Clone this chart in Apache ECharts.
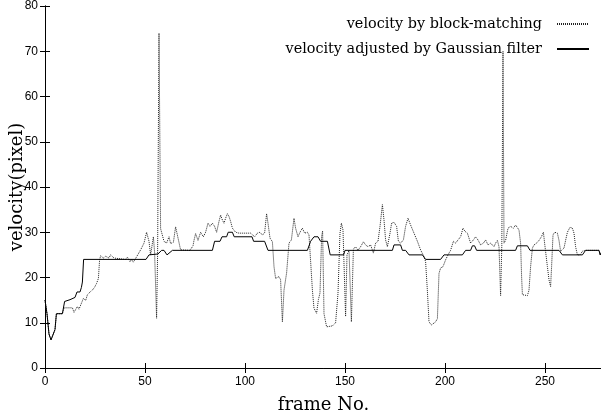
<!DOCTYPE html>
<html>
<head>
<meta charset="utf-8">
<script src="https://cdn.jsdelivr.net/npm/echarts@6/dist/echarts.min.js"></script>
<style>html,body{margin:0;padding:0;background:#fff}#c{width:601px;height:418px}</style>
</head>
<body>
<div id="c"></div>
<script>
// ---- data ----
var seriesNames = ['velocity by block-matching', 'velocity adjusted by Gaussian filter'];
var xTicks = [0, 50, 100, 150, 200, 250];
var yTicks = [0, 10, 20, 30, 40, 50, 60, 70, 80];

var blockFrames = [0,1,2,3,4,5,5.7,8.7,9.5,13.7,14.5,16.2,17,18.2,19.2,20.3,21.2,22.8,24.5,25.8,26.7,27.3,27.8,29.2,30.3,32,32.8,34.5,35.5,40.3,41.2,42.5,43.3,44.2,45.3,46.2,47.8,49.5,50.8,52,52.8,54.2,54.8,55.8,56.3,57,57.8,59.5,60.8,62,62.8,64.2,65.3,66.2,67.8,72.5,74,74.5,75.3,76.5,77.8,79.2,80.3,81.5,82.5,83.7,84.8,85.8,87,87.8,88.7,89.5,90.3,91.2,92,92.8,93.7,95.3,97,102.8,103.7,104.8,106.2,107.5,108.7,109.8,110.8,111.5,112.5,113.7,114.5,115.3,116.2,117,117.8,118.7,119.5,120.8,122,123.2,124.5,125.3,126.5,127.5,128.7,129.8,131.2,132,133,133.7,134.5,135.8,136.7,137.5,138.3,138.8,139.5,140.8,141.2,143.7,145.3,146.5,147.5,148.2,149,150.3,151,152,153.2,154.2,155.3,156.5,157.8,159.2,160.3,161.5,162.8,164.2,165.3,166.5,167.5,168.7,169.5,170.3,171.2,172.5,173.3,174.5,175.8,176.7,177.8,179.2,180.3,181.5,182.8,184.5,186.2,187.8,189.5,190.3,191.2,192,193.2,194.2,195.3,196.2,197,197.8,199,200.3,201.5,202.8,204.2,205.3,206.5,207.8,209,210,211.2,212,212.8,214.2,215.3,216.5,217.8,219.2,220.3,221.5,222.8,224.5,225.3,226.2,227,227.8,228.4,229,229.5,230.3,231.5,232.8,234.2,235.3,236.2,237,237.8,238.3,238.7,241.2,242,242.8,243.7,244.5,245.8,247,248.2,249.2,249.8,251.2,252,252.8,253.3,254,254.8,256.2,257,257.8,258.7,259.5,260.3,261.2,262.5,263.7,264.5,265.3,266.2,267.5,268.7,270.3,277,277.6,278.5];
var blockVel = [15,12,7.5,6.2,6.3,8.5,12,12,13.3,13.3,12.3,13.6,13,14.3,15.4,14.9,16.2,16.9,17.6,18.7,19.8,23.9,24.8,24.3,24.7,24.3,25,24.3,24,24,24.5,23.5,24,23.4,24.2,24,26.1,27.6,30,28,25,29,25.5,11,25,74,30.8,28,27.6,29,27.5,27.8,31.2,30.8,26.1,26,27,28.2,29.7,28.2,30,29,30,32,31.3,32,31.3,30,32.4,33.8,32.7,32,33.1,34.1,33.5,32.4,30.9,30,29.8,29.8,29.4,29,29.8,30,29.4,29.8,34.1,32,28.7,27.9,22.4,19.8,19.5,20.2,19.5,10.2,17.2,21,27.6,28.3,33.1,30.9,29,30,30.9,29.8,30,29.4,29.4,17.2,13.2,12.1,15.1,16.6,29,30.3,12,9.1,8.9,9.3,10,16.5,29.8,32,30.5,11.4,25,26,10.2,26.3,26.8,26,26.8,27.9,27.2,26.8,27.2,25.4,27.6,28,31.3,36.1,32.7,28.3,26.8,29.8,32,32.2,31.3,28,27.6,28.3,31.3,33.1,31.6,29.8,28,26.1,24.6,23.5,17,10.2,9.5,9.1,10.2,10.9,20.9,22.1,22.4,23.9,25,26,28,27.6,28.3,29,30.9,30.2,29.8,28.7,27.6,28.3,29,28.3,27.2,27.6,28.3,27.2,27.6,26.8,27.6,28.2,26.8,16,27,70,27.6,28.2,30.9,31.3,30.9,31.6,32,30.5,27.6,20.2,16.2,16,17.2,22.4,26.5,27.2,27.6,28.2,29,30,27.6,22.4,19.5,18,22.4,29.4,30,29.8,28.2,25.8,25.8,26.5,28.2,30,31.1,30.9,29.8,26.8,25,25,25.8,26,26,25,25.8];

var gaussFrames = [0,1,2,3,4,5,5.7,8.7,9.8,10.5,12.5,13,15,16,17.5,18.2,18.7,19.3,50.5,52,56.5,58.3,59.5,61,62,63.7,83.7,84.8,87.5,88.5,90.8,91.6,93.7,94.6,103.5,104.3,109.8,111.5,131.2,132.8,134.5,136.5,137.8,141.2,142.6,149.3,150,173.7,174.5,177.8,178.7,180.3,182,188.7,190.3,197.8,199.5,208.7,210.3,212.8,213.7,214.8,215.8,235.3,236.2,241.2,242.5,257,258.7,268.7,270.3,277,277.6,278.5];
var gaussVel = [15,12,7.5,6.2,6.3,8.5,12,12,14.7,15.1,15.1,15.5,15.6,16.8,16.8,17.8,19,24,24,25,25.2,26,26,25,25,26,26,28,28,29,29,30,30,29,29,28,28,26,26,28,29,29,28,28,25,25,26,26,27.2,27.2,26,26,25,25,24,24,25,25,26,26,27,27,26,26,27,27,26,26,25,25,26,26,25,25.8];
// --------------------------------------

function pairs(xs, ys) { return xs.map(function (x, i) { return [x, ys[i]]; }); }

var serif = 'DejaVu Serif';
var sans = 'Liberation Sans';
var chart = echarts.init(document.getElementById('c'), null, { renderer: 'canvas' });

var axisLineStyle = { color: '#000', width: 1 };
chart.setOption({
  animation: false,
  backgroundColor: '#fff',
  grid: { left: 45, top: 6, width: 557, height: 362, containLabel: false, outerBoundsMode: 'none' },
  legend: {
    orient: 'vertical', right: 6, top: 12, align: 'right',
    itemWidth: 32, itemHeight: 10, itemGap: 11,
    itemStyle: { opacity: 0 },
    textStyle: { fontFamily: serif, fontSize: 14.4, color: '#000', padding: [0, 10, 0, 0] },
    data: seriesNames
  },
  xAxis: [{
    type: 'value', min: 0, max: 278.5, interval: 50,
    name: 'frame No.', nameLocation: 'middle', nameGap: 28,
    nameTextStyle: { fontFamily: serif, fontSize: 18, color: '#000' },
    axisLine: { lineStyle: axisLineStyle },
    axisTick: { inside: true, length: 5, lineStyle: axisLineStyle },
    axisLabel: { fontFamily: sans, fontSize: 12, color: '#000', margin: 8, showMaxLabel: false,
      formatter: function (v) { return xTicks.indexOf(v) >= 0 ? String(v) : ''; } },
    splitLine: { show: false }
  }, {
    type: 'value', position: 'top', min: 0, max: 278.5, interval: 50,
    axisLine: { show: true, lineStyle: axisLineStyle },
    axisTick: { inside: true, length: 5, lineStyle: axisLineStyle },
    axisLabel: { show: false }, splitLine: { show: false }
  }],
  yAxis: [{
    type: 'value', min: 0, max: 80, interval: 10,
    name: 'velocity(pixel)', nameLocation: 'middle', nameGap: 19, nameRotate: 90,
    nameMoveOverlap: false,
    nameTextStyle: { fontFamily: serif, fontSize: 18, color: '#000' },
    axisLine: { show: true, lineStyle: axisLineStyle },
    axisTick: { show: true, inside: true, length: 5, lineStyle: axisLineStyle },
    axisLabel: { fontFamily: sans, fontSize: 12, color: '#000', margin: 7,
      formatter: function (v) { return yTicks.indexOf(v) >= 0 ? String(v) : ''; } },
    splitLine: { show: false }
  }, {
    type: 'value', position: 'right', min: 0, max: 80, interval: 10,
    axisLine: { show: true, lineStyle: axisLineStyle },
    axisTick: { show: true, inside: true, length: 5, lineStyle: axisLineStyle },
    axisLabel: { show: false }, splitLine: { show: false }
  }],
  series: [{
    name: seriesNames[0], type: 'line', showSymbol: false, symbol: 'none',
    data: pairs(blockFrames, blockVel),
    lineStyle: { color: '#222', width: 1, type: [1, 1] },
    itemStyle: { color: '#222' }, z: 2
  }, {
    name: seriesNames[1], type: 'line', showSymbol: false, symbol: 'none',
    data: pairs(gaussFrames, gaussVel),
    lineStyle: { color: '#000', width: 1, type: 'solid' },
    itemStyle: { color: '#000' }, z: 3
  }]
});
</script>
</body>
</html>
